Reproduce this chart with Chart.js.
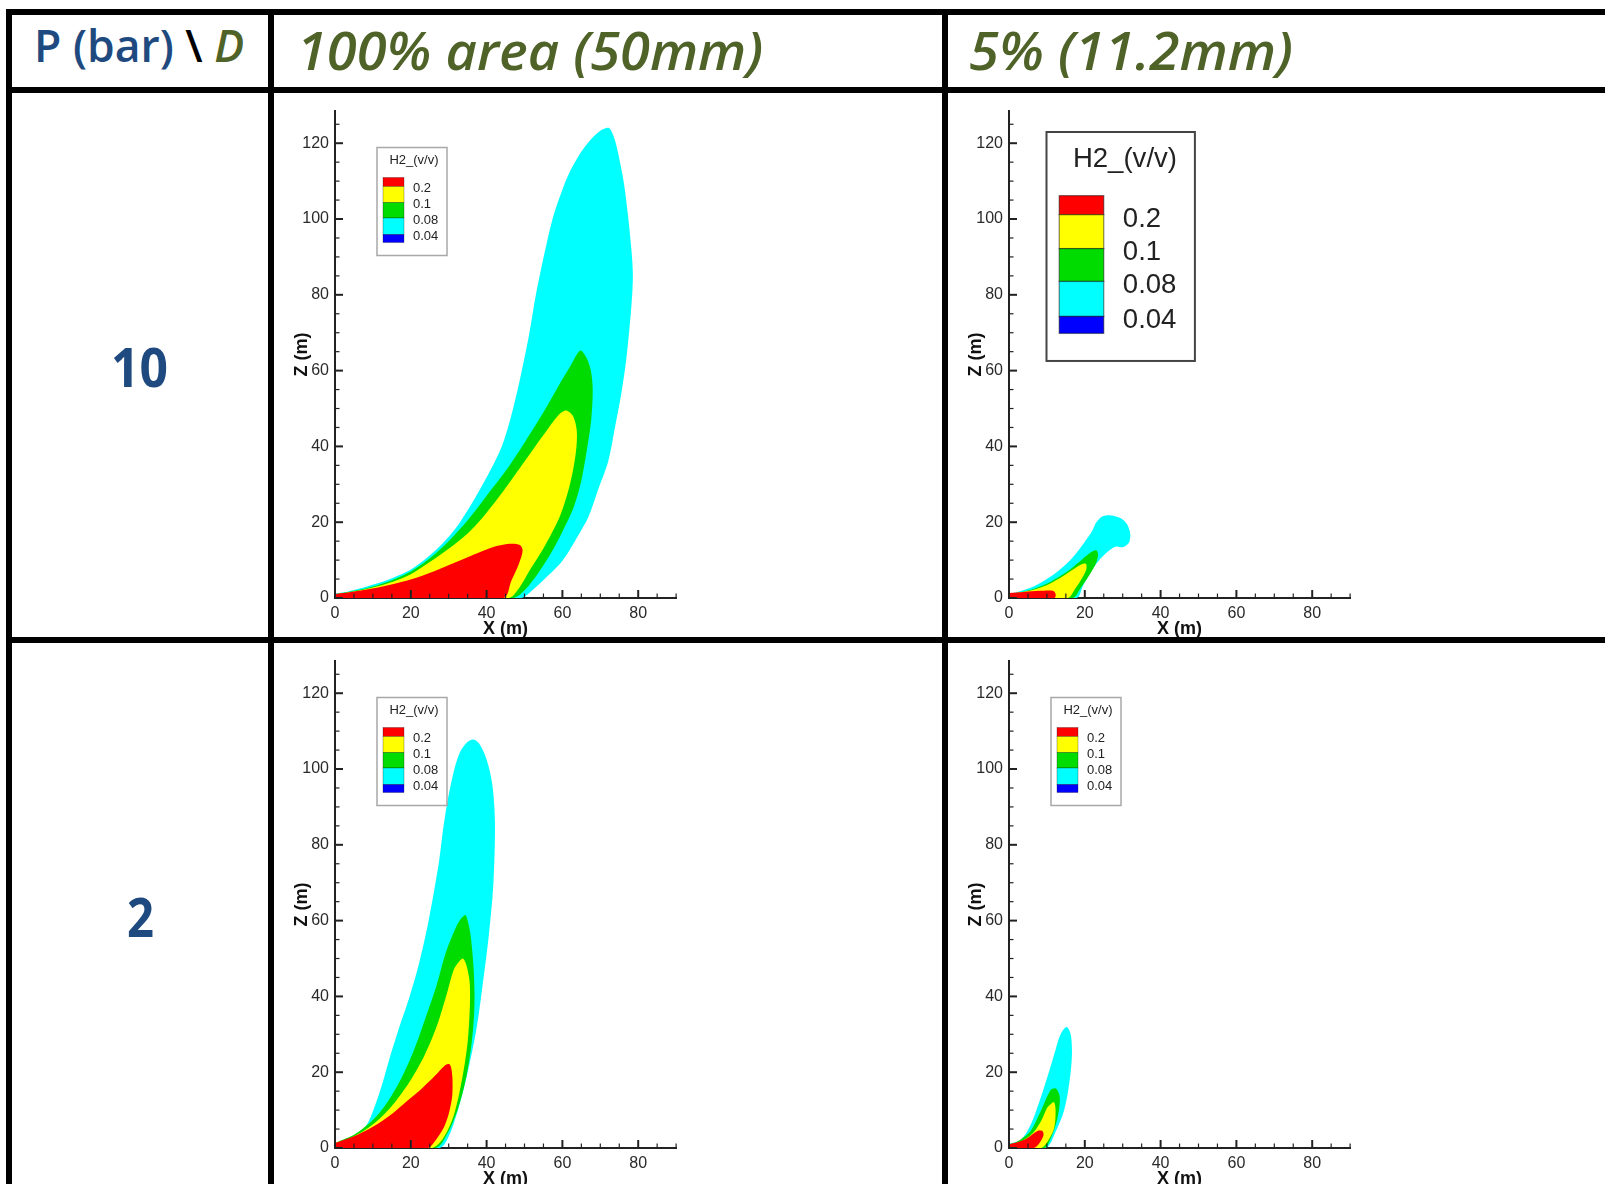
<!DOCTYPE html>
<html>
<head>
<meta charset="utf-8">
<script src="https://cdn.jsdelivr.net/npm/chart.js@4.4.1/dist/chart.umd.min.js"></script>
<style>
  html, body { margin: 0; padding: 0; background: #fff; }
  body { width: 1605px; height: 1184px; position: relative; overflow: hidden; }
  .rule { position: absolute; background: #000; z-index: 3; }
  .txt { position: absolute; white-space: nowrap; line-height: 1; transform-origin: 0 0; font-family: "Open Sans", sans-serif; }
  .blue { color: #1f4a7f; }
  .green { color: #4f6228; font-style: italic; }
  canvas { position: absolute; z-index: 1; }
</style>
</head>
<body>

<div class="rule" style="left:6px;top:9px;width:1599px;height:6px"></div>
<div class="rule" style="left:6px;top:87px;width:1599px;height:6px"></div>
<div class="rule" style="left:6px;top:637px;width:1599px;height:6px"></div>
<div class="rule" style="left:6px;top:9px;width:6px;height:1175px"></div>
<div class="rule" style="left:268px;top:9px;width:6px;height:1175px"></div>
<div class="rule" style="left:942px;top:9px;width:6px;height:1175px"></div>

<div id="hdCorner" class="txt" style="font-size:45px;font-weight:600"><span class="blue">P (bar)</span> <span style="color:#000">\</span> <span class="green">D</span></div>
<div id="hdCol0" class="txt green" style="font-size:52px;font-weight:600"></div>
<div id="hdCol1" class="txt green" style="font-size:52px;font-weight:600"></div>
<div id="hdRow0" class="txt blue" style="font-size:54px;font-weight:700"></div>
<div id="hdRow1" class="txt blue" style="font-size:54px;font-weight:700"></div>

<canvas id="c10full"></canvas>
<canvas id="c10small"></canvas>
<canvas id="c2full"></canvas>
<canvas id="c2small"></canvas>

<script>
// ---- data ----
const rowLabels = ['10', '2'];                       // P (bar)
const colLabels = ['100% area (50mm)', '5% (11.2mm)'];
const legendTitle = 'H2_(v/v)';
const levels = ['0.2', '0.1', '0.08', '0.04'];
const levelColors = ['#ff0000', '#ffff00', '#00dc00', '#00ffff', '#0000ff'];
const xTicks = [0, 20, 40, 60, 80];
const zTicks = [0, 20, 40, 60, 80, 100, 120];

// contour outlines [x (m), z (m)]  -- P = 10 bar, 100% area
const red10full = [[0,0],[44.4,0],[46.5,4.5],[48.5,9],[49.5,12.5],[48.8,14],[46,14.3],[42,13.5],[38,12],[32,9.5],[26,7],[20,4.9],[14,3.4],[8,2.2],[3,1.4],[0,1.1]];
const yellow10full = [[0,0],[45.8,0],[48.5,2.5],[51.5,7.5],[55.5,14],[59.5,22],[62,30],[63.5,38],[63.8,44],[62.8,48],[61,49.5],[59,48.3],[55,43],[50,36],[45,29],[40,22.5],[35,17],[30,13],[25,9.5],[20,6.3],[14,3.9],[8,2.3],[3,1.4],[0,1.0]];
const green10full = [[0,0],[47,0],[49.5,1.5],[52.5,5],[56.5,11],[60,17.5],[63,24],[65,31],[66.6,40],[67.6,47],[68,55],[67.5,60],[66.3,63.5],[64.7,65.3],[62,61],[59,56],[55,49],[50,41],[45,33.5],[40,27],[35,20.5],[30,15],[25,10.5],[20,7],[14,4.3],[8,2.5],[3,1.5],[0,1.0]];
const cyan10full = [[0,0],[49,0],[52,2],[55.5,5.2],[59.9,9.7],[63.4,15.2],[66.9,21.5],[69.5,28.8],[72.1,36.1],[73.9,45.2],[75.6,54.3],[76.9,63.4],[78.2,77],[78.6,85],[78.2,92],[77.3,101],[76.3,109],[75,116],[73.8,121],[72.3,124],[70.2,123.4],[67.5,121],[64.5,117],[61.5,111.5],[59,105],[57.4,100],[55.5,92],[53,80],[51.3,70],[49.3,60],[47,50],[44,40],[39,30],[33,20],[28.5,14.5],[24.5,10.8],[20,7.5],[14,4.8],[8,2.9],[3,1.6],[0,1.2]];

// P = 10 bar, 5% area
const red10small = [[0,0],[12,0],[12.3,1.0],[11.6,1.9],[8,1.9],[4,1.6],[0,1.3]];
const yellow10small = [[0,0],[15.5,0],[17.5,2.5],[19.3,5.3],[20.4,7.6],[20.3,9],[19.2,8.9],[17,7.6],[14,5.6],[11,3.9],[7,2.3],[3,1.5],[0,1.1]];
const green10small = [[0,0],[16.8,0],[19,2.8],[21.3,6.2],[23,9.3],[23.5,11.5],[23,12.6],[21.5,12],[18.5,9.5],[15,6.7],[11,4.3],[7,2.6],[3,1.5],[0,1.1]];
const cyan10small = [[0,0],[17.8,0],[19.5,3.2],[21.5,6.8],[24,10.2],[26.5,12.6],[28.3,13.6],[30,13.4],[31.6,14.5],[32,16.8],[31.2,19.4],[29.4,21.1],[27,21.8],[24.6,21.5],[23,19.9],[22,17.8],[19.7,14.4],[16.2,10],[11.8,6.2],[6.6,3.1],[2,1.5],[0,1.2]];

// P = 2 bar, 100% area
const red2full = [[0,0],[24.4,0],[26.5,2],[28.5,5],[30,9],[30.9,13.5],[31,18],[30.7,21],[30.2,22.1],[29,21.8],[26.5,19.2],[23,15.8],[19,12.4],[15,9],[10,5.6],[5,3.1],[0,1.3]];
const yellow2full = [[0,0],[25.5,0],[28.5,2.5],[31.3,8.5],[33.5,18],[35,28],[35.6,38],[35.5,44],[34.6,48.5],[33.7,50],[32.6,49],[31.3,47],[29.3,40],[26.7,31.7],[23.6,24.4],[19.7,17.5],[14.5,10.5],[9.2,5.6],[4,2.6],[0,1.3]];
const green2full = [[0,0],[26.5,0],[29.5,3.5],[32.5,10.5],[34.8,19.5],[36.2,29],[36.8,38],[36.6,47],[35.8,56],[35,60],[34.4,61.5],[33.2,60.5],[31.8,58],[29.3,51.8],[26.7,42.6],[23.6,33.5],[20.5,25],[16.5,16.5],[11.5,9],[5.5,3.8],[0,1.3]];
const cyan2full = [[0,0],[27.5,0],[29.5,2],[31.5,7],[34.1,16.1],[37.2,30.7],[38.9,42.6],[40.6,56.3],[41.8,70],[42.2,86],[41.5,96],[40,102.5],[38.2,106.5],[36.5,107.8],[34.8,107],[33,104.5],[31.5,100],[29.6,91],[28.5,84],[27.5,76],[26,67],[24.3,58],[22,48],[19.7,40],[17,32],[14.5,24],[12.5,17],[10.5,11],[8.3,6],[4.8,2.5],[0,1.3]];

// P = 2 bar, 5% area
const red2small = [[0,0],[6.6,0],[7.9,1.1],[9.1,3.4],[8.8,4.5],[7.5,4.5],[4.8,2.6],[2.2,1.5],[0,1.0]];
const yellow2small = [[0,0],[8.4,0],[10.1,1.6],[11.9,5.2],[12.3,9.8],[11.9,12.1],[10.9,11.5],[10.1,10.7],[8.4,7],[6.2,3.8],[3.1,1.7],[0,0.9]];
const green2small = [[0,0],[9.3,0],[11,2.5],[12.8,7.9],[13.4,13.4],[12.4,15.7],[11,15.3],[8.4,9.8],[5.7,4.5],[2.2,1.7],[0,0.9]];
const cyan2small = [[0,0],[9.7,0],[12.3,4.3],[14.5,9.8],[15.9,17.1],[16.6,24.4],[16.3,29.9],[15.2,31.9],[13.6,30],[12.3,26],[11,21.6],[8.4,13.4],[5.7,6.1],[3.1,2.2],[0,1.1]];

// ---- layout ----
const FONT = '"Liberation Sans", Arial, sans-serif';
const PPU = 3.79;          // px per metre
const X_MAX = 90, Z_MAX = 128.5, MINOR = 5, MAJOR = 20;
const Y_AXIS_W = 60, X_AXIS_H = 42, PAD_TOP = 20, CANVAS_W = 640;

// legend is laid out in "small legend" units, then scaled
const LEG_W = 70, LEG_H = 108;
const LEG_BANDS = [30, 39, 55, 70.5, 87, 95];

const decor = {
  id: 'decor',
  afterDraw(chart, args, o) {
    const {ctx, chartArea: a, scales: {x, y}} = chart;
    ctx.save();
    ctx.strokeStyle = '#222';
    // inward ticks
    for (let v = 0; v <= X_MAX; v += MINOR) {
      const px = x.getPixelForValue(v), major = v % MAJOR === 0;
      ctx.lineWidth = major ? 2 : 1.2;
      ctx.beginPath(); ctx.moveTo(px, a.bottom); ctx.lineTo(px, a.bottom - (major ? 8 : 4.5)); ctx.stroke();
    }
    for (let v = 0; v <= Z_MAX; v += MINOR) {
      const py = y.getPixelForValue(v), major = v % MAJOR === 0;
      ctx.lineWidth = major ? 2 : 1.2;
      ctx.beginPath(); ctx.moveTo(a.left, py); ctx.lineTo(a.left + (major ? 8 : 4.5), py); ctx.stroke();
    }
    // contour legend
    const s = o.scale, bx = a.left + o.left, by = a.top + o.top;
    ctx.fillStyle = '#fff';
    ctx.fillRect(bx, by, LEG_W * s, LEG_H * s);
    ctx.strokeStyle = o.frame;
    ctx.lineWidth = o.frameWidth;
    ctx.strokeRect(bx, by, LEG_W * s, LEG_H * s);
    ctx.fillStyle = '#222';
    ctx.font = (13 * s) + 'px ' + FONT;
    ctx.textAlign = 'center';
    ctx.textBaseline = 'middle';
    ctx.fillText(legendTitle, bx + 37 * s, by + 13 * s);
    for (let i = 0; i < levelColors.length; i++) {
      const t = by + LEG_BANDS[i] * s, h = (LEG_BANDS[i + 1] - LEG_BANDS[i]) * s;
      ctx.fillStyle = levelColors[i];
      ctx.fillRect(bx + 6 * s, t, 21 * s, h);
      ctx.strokeStyle = 'rgba(0,0,0,0.45)';
      ctx.lineWidth = 0.6 * s;
      ctx.strokeRect(bx + 6 * s, t, 21 * s, h);
    }
    ctx.fillStyle = '#222';
    ctx.textAlign = 'left';
    levels.forEach((lab, i) => {
      ctx.fillText(lab, bx + 36 * s, by + (LEG_BANDS[i + 1] + 2) * s);
    });
    ctx.restore();
  }
};

function panel(id, shapes, pos, legend) {
  const cv = document.getElementById(id);
  const top = pos.bottom - Z_MAX * PPU;
  const right = pos.left + X_MAX * PPU;
  const cLeft = pos.left - Y_AXIS_W, cTop = top - PAD_TOP;
  const cH = pos.bottom - cTop + X_AXIS_H;
  cv.width = CANVAS_W; cv.height = Math.round(cH);
  cv.style.left = cLeft + 'px'; cv.style.top = cTop + 'px';

  new Chart(cv, {
    type: 'line',
    data: {
      datasets: shapes.map((pts, i) => ({
        data: pts.map(p => ({x: p[0], y: p[1]})),
        backgroundColor: levelColors[i],
        borderWidth: 0,
        pointRadius: 0,
        fill: 'shape',
        tension: 0.3
      }))
    },
    options: {
      responsive: false,
      animation: false,
      devicePixelRatio: 1,
      events: [],
      layout: { padding: { left: 0, top: PAD_TOP, right: CANVAS_W - (right - cLeft), bottom: cv.height - cH } },
      plugins: { legend: { display: false }, tooltip: { enabled: false }, decor: legend },
      scales: {
        x: {
          type: 'linear', min: 0, max: X_MAX, z: 1,
          afterBuildTicks: s => { s.ticks = xTicks.map(v => ({value: v})); },
          afterFit: s => { s.height = X_AXIS_H; s.paddingLeft = 0; s.paddingRight = 0; },
          grid: { display: false, drawTicks: false },
          border: { display: true, color: '#222', width: 2 },
          ticks: { padding: 6, color: '#2a2a2a', autoSkip: false, maxRotation: 0, font: { family: FONT, size: 16 } },
          title: { display: true, text: 'X (m)', color: '#111', padding: { top: 0, bottom: 0 }, font: { family: FONT, size: 18, weight: 'bold' } }
        },
        y: {
          type: 'linear', min: 0, max: Z_MAX, z: 1,
          afterBuildTicks: s => { s.ticks = zTicks.map(v => ({value: v})); },
          afterFit: s => { s.width = Y_AXIS_W; s.paddingTop = 0; s.paddingBottom = 0; },
          grid: { display: false, drawTicks: false },
          border: { display: true, color: '#222', width: 2 },
          ticks: { padding: 6, color: '#2a2a2a', font: { family: FONT, size: 16 } },
          title: { display: true, text: 'Z (m)', color: '#111', padding: { top: 16, bottom: 0 }, font: { family: FONT, size: 18, weight: 'bold' } }
        }
      }
    },
    plugins: [decor]
  });
}

function place(id, left, baseline, width) {
  const el = document.getElementById(id);
  const fs = parseFloat(getComputedStyle(el).fontSize);
  el.style.left = left + 'px';
  el.style.top = (baseline - 0.888 * fs) + 'px';
  const w = el.getBoundingClientRect().width;
  el.style.transform = 'scaleX(' + (width / w).toFixed(3) + ')';
}

const smallLegend = { left: 42, top: 36.5, scale: 1, frame: '#a8a8a8', frameWidth: 1.5 };
const bigLegend = { left: 37.5, top: 21, scale: 2.12, frame: '#444', frameWidth: 2 };

document.getElementById('hdCol0').textContent = colLabels[0];
document.getElementById('hdCol1').textContent = colLabels[1];
document.getElementById('hdRow0').textContent = rowLabels[0];
document.getElementById('hdRow1').textContent = rowLabels[1];

document.fonts.ready.then(() => {
  place('hdCorner', 34, 62, 210);
  place('hdCol0', 297, 70, 466);
  place('hdCol1', 969, 70, 324);
  place('hdRow0', 111, 387, 57);
  place('hdRow1', 127, 937, 27);

  Chart.defaults.font.family = FONT;
  panel('c10full', [red10full, yellow10full, green10full, cyan10full], { left: 335, bottom: 598.5 }, smallLegend);
  panel('c10small', [red10small, yellow10small, green10small, cyan10small], { left: 1008.5, bottom: 598.5 }, bigLegend);
  panel('c2full', [red2full, yellow2full, green2full, cyan2full], { left: 335, bottom: 1148 }, smallLegend);
  panel('c2small', [red2small, yellow2small, green2small, cyan2small], { left: 1008.5, bottom: 1148 }, smallLegend);
});
</script>
</body>
</html>
